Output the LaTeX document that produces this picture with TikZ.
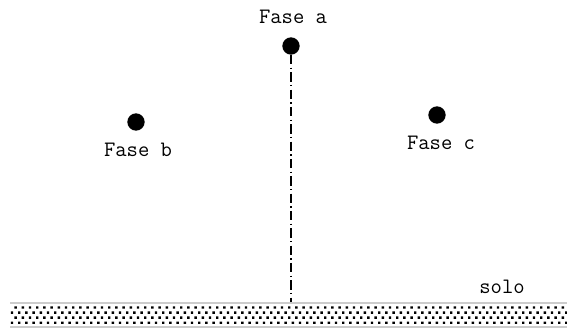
\documentclass[tikz,border=0pt]{standalone}
\usetikzlibrary{patterns}

\pgfdeclarepatternformonly{solodots}{\pgfqpoint{-1pt}{-1pt}}{\pgfqpoint{7pt}{9pt}}{\pgfqpoint{5.4pt}{7.6pt}}{%
  \pgfpathrectangle{\pgfqpoint{0pt}{0pt}}{\pgfqpoint{1.8pt}{1.8pt}}
  \pgfpathrectangle{\pgfqpoint{2.7pt}{3.8pt}}{\pgfqpoint{1.8pt}{1.8pt}}
  \pgfusepath{fill}}

\begin{document}
\begin{tikzpicture}[x=0.75pt,y=-0.75pt,
    fase/.style={circle,fill=black,inner sep=0pt,minimum size=13pt},
    rotulo/.style={font=\fontsize{16.5}{18}\ttfamily,inner sep=1pt},
    eixo/.style={line width=0.8pt,dash pattern=on 7pt off 2.5pt on 1pt off 2.5pt}]
    \useasboundingbox (0,0) rectangle (567,329);
    % solo
    \fill[pattern=solodots] (10,303) rectangle (567,327);
    \draw[gray!40,line width=1pt] (10,303) -- (567,303);
    \draw[gray!40,line width=1pt] (10,327) -- (567,327);
    \node[rotulo] (solo) at (502,287) {solo};
    % fases
    \node[fase] (a) at (291,46) {};
    \node[fase] (b) at (136,122) {};
    \node[fase] (c) at (437,115) {};
    \node[rotulo] (la) at (293,17) {Fase a};
    \node[rotulo] (lb) at (138,150) {Fase b};
    \node[rotulo] (lc) at (441,143) {Fase c};
    % eixo de simetria
    \coordinate (pe) at (291,302);
    \draw[eixo] (a) -- (pe);
\end{tikzpicture}
\end{document}
